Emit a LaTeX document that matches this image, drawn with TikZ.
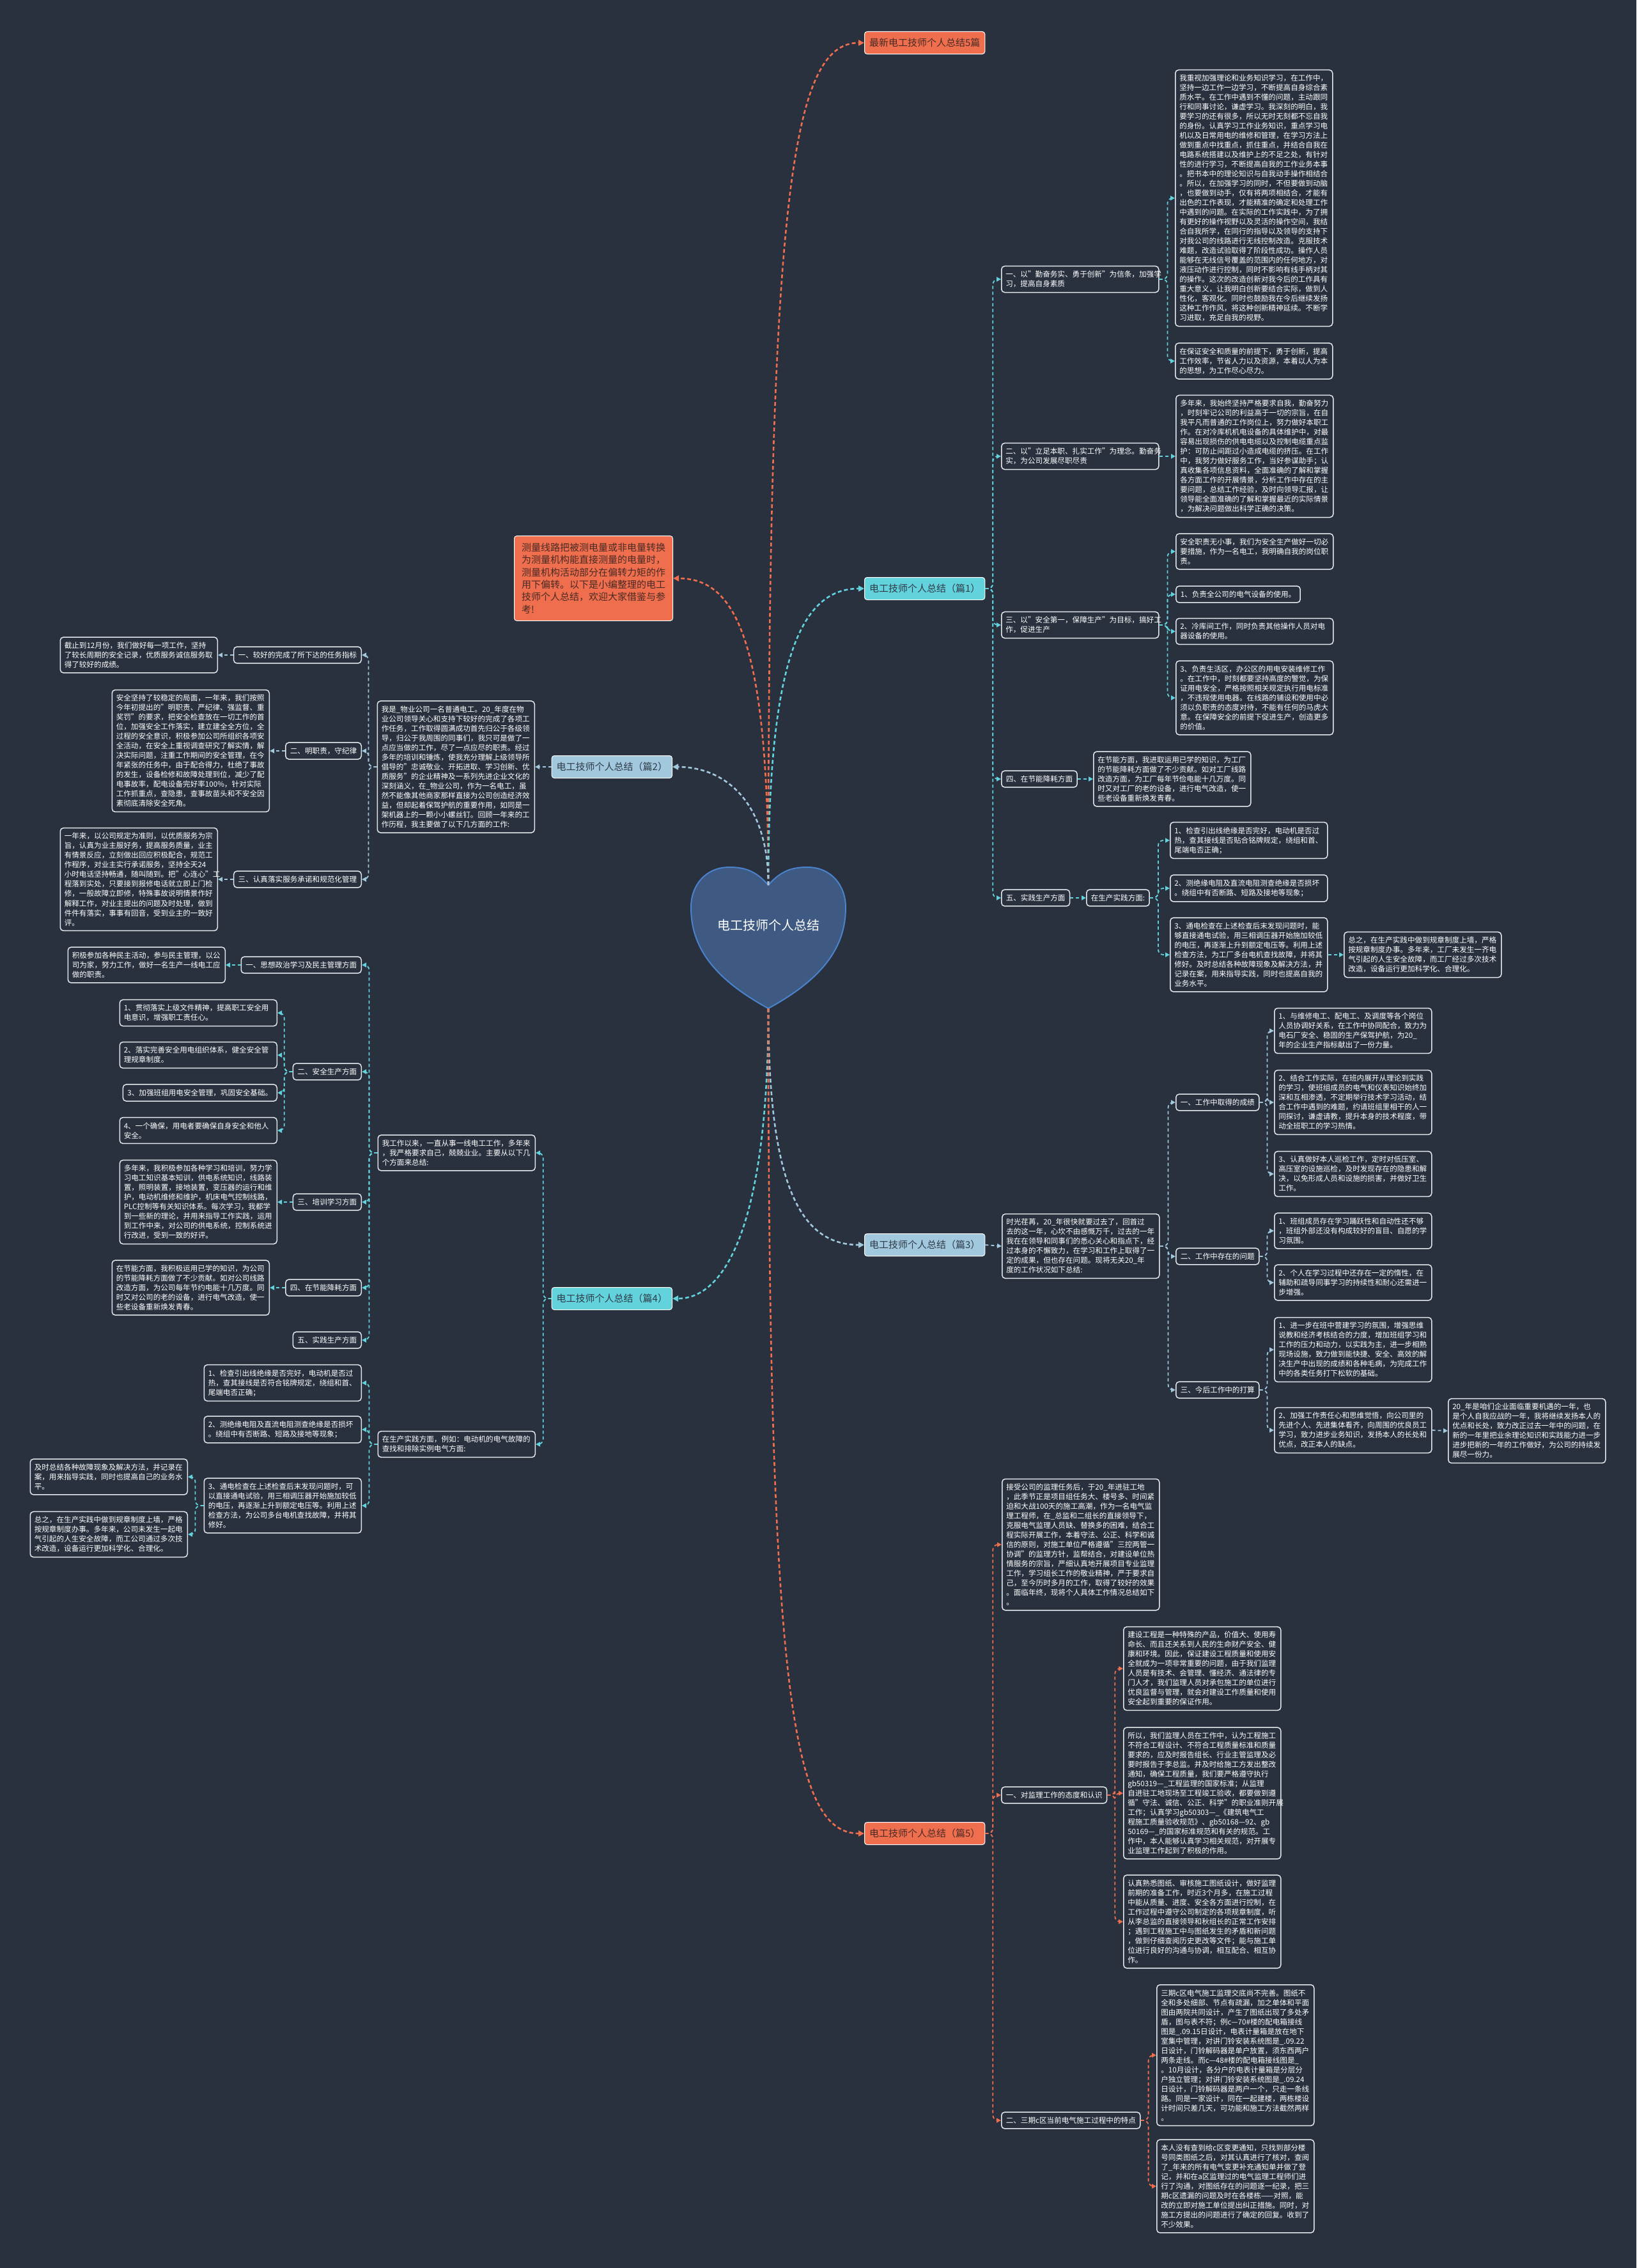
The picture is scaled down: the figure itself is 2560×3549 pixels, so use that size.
\documentclass[tikz,border=0pt]{standalone}
\usepackage{fontspec}
\setmainfont{Noto Sans CJK SC}
\usetikzlibrary{arrows.meta}
\definecolor{bg}{HTML}{29313F}
\definecolor{boxline}{HTML}{E3E8EC}
\definecolor{cyanc}{HTML}{62D2DC}
\definecolor{bluec}{HTML}{A2C8DE}
\definecolor{orangec}{HTML}{EE6E4E}
\definecolor{darktxt}{HTML}{2E3A46}
\definecolor{browntxt}{HTML}{4A2A24}
\definecolor{heartfill}{HTML}{3E5A82}
\definecolor{heartline}{HTML}{4A82CC}
\tikzset{
  tb/.style={draw=boxline, fill=bg, rounded corners=5pt, line width=1.5pt, text=white,
    inner xsep=6.5pt, inner ysep=7.5pt, align=left, text width=233pt,
    font=\fontsize{11.6}{15}\selectfont},
  lb/.style={draw=boxline, fill=bg, rounded corners=5pt, line width=1.5pt, text=white,
    inner xsep=7pt, inner ysep=7.5pt, align=left, font=\fontsize{11.6}{15}\selectfont},
  topbox/.style={draw=white, rounded corners=4pt, line width=1pt, inner xsep=7.5pt,
    inner ysep=0pt, minimum height=35pt, font=\fontsize{15}{19.4}\selectfont},
  introbox/.style={draw=white, fill=orangec, text=browntxt, rounded corners=4pt, line width=1pt,
    inner xsep=11.5pt, inner ysep=11pt, align=left, text width=225pt,
    font=\fontsize{15}{19.4}\selectfont},
  conn/.style={line width=1.8pt, dash pattern=on 5pt off 4pt, rounded corners=8pt,
    -{Triangle[length=7pt,width=7pt]}},
  cc/.style={conn, draw=cyanc},
  bc/.style={conn, draw=bluec},
  oc/.style={conn, draw=orangec},
  mainc/.style={line width=2.6pt, dash pattern=on 6pt off 4pt, -{Triangle[length=9pt,width=9pt]}}
}
\begin{document}
\begin{tikzpicture}[x=1pt,y=-1pt]
\fill[bg] (0,0) rectangle (2560,3549);
\useasboundingbox (0,0) rectangle (2560,3549);

% heart
\filldraw[fill=heartfill, draw=heartline, line width=2pt]
 (1202,1385) .. controls (1222,1362) and (1240,1357) .. (1263,1357)
 .. controls (1300,1357) and (1323,1385) .. (1323,1420)
 .. controls (1323,1480) and (1290,1530) .. (1202,1578)
 .. controls (1114,1530) and (1081,1480) .. (1081,1420)
 .. controls (1081,1385) and (1104,1357) .. (1141,1357)
 .. controls (1164,1357) and (1182,1362) .. (1202,1385) -- cycle;
\node[font=\fontsize{20}{24}\selectfont, text=white] (root) at (1202,1448) {电工技师个人总结};
\coordinate (htop) at (1202,1385);
\coordinate (hbot) at (1202,1578);

% level 1
\node[topbox, fill=orangec, text=browntxt, anchor=west] (t5) at (1352,67) {最新电工技师个人总结5篇};
\node[introbox, anchor=east] (intro) at (1053,905) {测量线路把被测电量或非电量转换\\为测量机构能直接测量的电量时，\\测量机构活动部分在偏转力矩的作\\用下偏转。以下是小编整理的电工\\技师个人总结，欢迎大家借鉴与参\\考!};
\node[topbox, fill=cyanc, text=darktxt, anchor=west] (p1) at (1352,921) {电工技师个人总结（篇1）};
\node[topbox, fill=bluec, text=darktxt, anchor=east] (p2) at (1052,1200) {电工技师个人总结（篇2）};
\node[topbox, fill=bluec, text=darktxt, anchor=west] (p3) at (1352,1948) {电工技师个人总结（篇3）};
\node[topbox, fill=cyanc, text=darktxt, anchor=east] (p4) at (1052,2032) {电工技师个人总结（篇4）};
\node[topbox, fill=orangec, text=browntxt, anchor=west] (p5) at (1352,2869) {电工技师个人总结（篇5）};

\draw[mainc, draw=orangec] (htop) .. controls (1202,300) and (1240,67) .. (t5.west);
\draw[mainc, draw=orangec] (htop) .. controls (1202,1000) and (1150,905) .. (intro.east);
\draw[mainc, draw=cyanc] (htop) .. controls (1202,1040) and (1250,921) .. (p1.west);
\draw[mainc, draw=bluec] (htop) .. controls (1202,1250) and (1130,1200) .. (p2.east);
\draw[mainc, draw=bluec] (hbot) .. controls (1202,1850) and (1250,1948) .. (p3.west);
\draw[mainc, draw=cyanc] (hbot) .. controls (1202,1900) and (1140,2032) .. (p4.east);
\draw[mainc, draw=orangec] (hbot) .. controls (1202,2650) and (1240,2869) .. (p5.west);

% ===== 篇1 =====
\node[tb, anchor=west] (b11) at (1566,437) {一、以"勤奋务实、勇于创新"为信条，加强学\\习，提高自身素质};
\node[tb, anchor=west] (a1) at (1838,310) {我重视加强理论和业务知识学习，在工作中，\\坚持一边工作一边学习，不断提高自身综合素\\质水平。在工作中遇到不懂的问题，主动跟同\\行和同事讨论，谦虚学习。我深刻的明白，我\\要学习的还有很多，所以无时无刻都不忘自我\\的身份。认真学习工作业务知识，重点学习电\\机以及日常用电的维修和管理，在学习方法上\\做到重点中找重点，抓住重点，并结合自我在\\电路系统搭建以及维护上的不足之处，有针对\\性的进行学习，不断提高自我的工作业务本事\\。把书本中的理论知识与自我动手操作相结合\\。所以，在加强学习的同时，不但要做到动脑\\，也要做到动手，仅有将两项相结合，才能有\\出色的工作表现，才能精准的确定和处理工作\\中遇到的问题。在实际的工作实践中，为了拥\\有更好的操作视野以及灵活的操作空间，我结\\合自我所学，在同行的指导以及领导的支持下\\对我公司的线路进行无线控制改造。克服技术\\难题，改造试验取得了阶段性成功。操作人员\\能够在无线信号覆盖的范围内的任何地方，对\\液压动作进行控制，同时不影响有线手柄对其\\的操作。这次的改造创新对我今后的工作具有\\重大意义，让我明白创新要结合实际，做到人\\性化，客观化。同时也鼓励我在今后继续发扬\\这种工作作风，将这种创新精神延续。不断学\\习进取，充足自我的视野。};
\node[tb, anchor=west] (a2) at (1838,565) {在保证安全和质量的前提下，勇于创新，提高\\工作效率，节省人力以及资源，本着以人为本\\的思想，为工作尽心尽力。};
\node[tb, anchor=west] (b12) at (1566,714) {二、以"立足本职、扎实工作"为理念。勤奋务\\实，为公司发展尽职尽责};
\node[tb, anchor=west] (bb1) at (1839,714) {多年来，我始终坚持严格要求自我，勤奋努力\\，时刻牢记公司的利益高于一切的宗旨，在自\\我平凡而普通的工作岗位上，努力做好本职工\\作。在对冷库机机电设备的具体维护中，对最\\容易出现损伤的供电电缆以及控制电缆重点监\\护：可防止间距过小造成电缆的挤压。在工作\\中，我努力做好服务工作，当好参谋助手；认\\真收集各项信息资料，全面准确的了解和掌握\\各方面工作的开展情景，分析工作中存在的主\\要问题，总结工作经验，及时向领导汇报，让\\领导能全面准确的了解和掌握最近的实际情景\\，为解决问题做出科学正确的决策。};
\node[tb, anchor=west] (b13) at (1566,978) {三、以"安全第一，保障生产"为目标，搞好工\\作，促进生产};
\node[tb, anchor=west] (c1) at (1839,863) {安全职责无小事，我们为安全生产做好一切必\\要措施，作为一名电工，我明确自我的岗位职\\责。};
\node[lb, anchor=west] (c2) at (1839,930) {1、负责全公司的电气设备的使用。};
\node[tb, anchor=west] (c3) at (1839,988) {2、冷库间工作，同时负责其他操作人员对电\\器设备的使用。};
\node[tb, anchor=west] (c4) at (1839,1092) {3、负责生活区，办公区的用电安装维修工作\\。在工作中，时刻都要坚持高度的警觉，为保\\证用电安全，严格按照相关规定执行用电标准\\，不违规使用电器。在线路的铺设和使用中必\\须以负职责的态度对待，不能有任何的马虎大\\意。在保障安全的前提下促进生产，创造更多\\的价值。};
\node[lb, anchor=west] (b14) at (1566,1219) {四、在节能降耗方面};
\node[tb, anchor=west] (d1) at (1710,1219) {在节能方面，我进取运用已学的知识，为工厂\\的节能降耗方面做了不少贡献。如对工厂线路\\改造方面，为工厂每年节俭电能十几万度。同\\时又对工厂的老的设备，进行电气改造，使一\\些老设备重新焕发青春。};
\node[lb, anchor=west] (b15) at (1566,1405) {五、实践生产方面};
\node[lb, anchor=west] (e0) at (1699,1405) {在生产实践方面:};
\node[tb, anchor=west] (e1) at (1830,1315) {1、检查引出线绝缘是否完好，电动机是否过\\热，查其接线是否贴合铭牌规定，绕组和首、\\尾端电否正确；};
\node[tb, anchor=west] (e2) at (1830,1390) {2、测绝缘电阻及直流电阻测查绝缘是否损坏\\。绕组中有否断路、短路及接地等现象；};
\node[tb, anchor=west] (e3) at (1830,1494) {3、通电检查在上述检查后末发现问题时，能\\够直接通电试验，用三相调压器开始施加较低\\的电压，再逐渐上升到额定电压等。利用上述\\检查方法，为工厂多台电机查找故障，并将其\\修好。及时总结各种故障现象及解决方法，并\\记录在案，用来指导实践，同时也提高自我的\\业务水平。};
\node[tb, anchor=west] (e4) at (2102,1494) {总之，在生产实践中做到规章制度上墙，严格\\按规章制度办事。多年来，工厂未发生一齐电\\气引起的人生安全故障，而工厂经过多次技术\\改造，设备运行更加科学化、合理化。};

\foreach \c in {b11,b12,b13,b14,b15} \draw[cc] (p1.east) -- ++(12,0) |- (\c.west);
\foreach \c in {a1,a2} \draw[cc] (b11.east) -- ++(13,0) |- (\c.west);
\draw[cc] (b12.east) -- (bb1.west);
\foreach \c in {c1,c2,c3,c4} \draw[cc] (b13.east) -- ++(13,0) |- (\c.west);
\draw[cc] (b14.east) -- (d1.west);
\draw[cc] (b15.east) -- (e0.west);
\foreach \c in {e1,e2,e3} \draw[cc] (e0.east) -- ++(13,0) |- (\c.west);
\draw[cc] (e3.east) -- (e4.west);

% ===== 篇2 =====
\node[tb, anchor=east] (q0) at (837,1200) {我是\_物业公司一名普通电工。20\_年度在物\\业公司领导关心和支持下较好的完成了各项工\\作任务，工作取得圆满成功首先归公于各级领\\导，归公于我周围的同事们，我只可是做了一\\点应当做的工作，尽了一点应尽的职责。经过\\多年的培训和锤炼，使我充分理解上级领导所\\倡导的"忠诚敬业、开拓进取、学习创新、优\\质服务"的企业精神及一系列先进企业文化的\\深刻涵义，在\_物业公司，作为一名电工，虽\\然不能像其他商家那样直接为公司创造经济效\\益，但却起着保驾护航的重要作用，如同是一\\架机器上的一颗小小螺丝钉。回顾一年来的工\\作历程，我主要做了以下几方面的工作:};
\node[lb, anchor=east] (qb1) at (566,1025) {一、较好的完成了所下达的任务指标};
\node[tb, anchor=east] (qc1) at (341,1025) {截止到12月份，我们做好每一项工作，坚持\\了较长周期的安全记录，优质服务诚信服务取\\得了较好的成绩。};
\node[lb, anchor=east] (qb2) at (566,1175) {二、明职责，守纪律};
\node[tb, anchor=east] (qc2) at (422,1175) {安全坚持了较稳定的局面，一年来，我们按照\\今年初提出的"明职责、严纪律、强监督、重\\奖罚"的要求，把安全检查放在一切工作的首\\位，加强安全工作落实，建立建全全方位，全\\过程的安全意识，积极参加公司所组织各项安\\全活动，在安全上重视调查研究了解实情，解\\决实际问题，注重工作期间的安全管理，在今\\年紧张的任务中，由于配合得力，杜绝了事故\\的发生，设备检修和故障处理到位，减少了配\\电事故率，配电设备完好率100\%，针对实际\\工作抓重点，查隐患，查事故苗头和不安全因\\素彻底清除安全死角。};
\node[lb, anchor=east] (qb3) at (566,1376) {三、认真落实服务承诺和规范化管理};
\node[tb, anchor=east] (qc3) at (341,1376) {一年来，以公司规定为准则，以优质服务为宗\\旨，认真为业主服好务，提高服务质量，业主\\有情景反应，立刻做出回应积极配合，规范工\\作程序，对业主实行承诺服务，坚持全天24\\小时电话坚持畅通，随叫随到。把"心连心"工\\程落到实处，只要接到报修电话就立即上门检\\修，一般故障立即修，特殊事故说明情景作好\\解释工作，对业主提出的问题及时处理，做到\\件件有落实，事事有回音，受到业主的一致好\\评。};

\draw[bc] (p2.west) -- (q0.east);
\foreach \c in {qb1,qb2,qb3} \draw[bc] (q0.west) -- ++(-13,0) |- (\c.east);
\draw[bc] (qb1.west) -- (qc1.east);
\draw[bc] (qb2.west) -- (qc2.east);
\draw[bc] (qb3.west) -- (qc3.east);

% ===== 篇3 =====
\node[tb, anchor=west] (r0) at (1567,1950) {时光荏苒，20\_年很快就要过去了，回首过\\去的这一年，心坎不由感慨万千，过去的一年\\我在在领导和同事们的悉心关心和指点下，经\\过本身的不懈致力，在学习和工作上取得了一\\定的成果，但也存在问题。现将无关20\_年\\度的工作状况如下总结:};
\node[lb, anchor=west] (rb1) at (1839,1725) {一、工作中取得的成绩};
\node[tb, anchor=west] (h1) at (1993,1613) {1、与维修电工、配电工、及调度等各个岗位\\人员协调好关系，在工作中协同配合，致力为\\电石厂安全、稳固的生产保驾护航，为20\_\\年的企业生产指标献出了一份力量。};
\node[tb, anchor=west] (h2) at (1993,1725) {2、结合工作实际，在班内展开从理论到实践\\的学习，使班组成员的电气和仪表知识始终加\\深和互相渗透，不定期举行技术学习活动，结\\合工作中遇到的难题，约请班组里相干的人一\\同探讨，谦虚请教，提升本身的技术程度，带\\动全班职工的学习热情。};
\node[tb, anchor=west] (h3) at (1993,1837) {3、认真做好本人巡检工作，定时对低压室、\\高压室的设施巡检，及时发现存在的隐患和解\\决，以免形成人员和设施的损害，并做好卫生\\工作。};
\node[lb, anchor=west] (rb2) at (1839,1966) {二、工作中存在的问题};
\node[tb, anchor=west] (i1) at (1993,1926) {1、班组成员存在学习踊跃性和自动性还不够\\，班组外部还没有构成较好的盲目、自愿的学\\习氛围。};
\node[tb, anchor=west] (i2) at (1993,2007) {2、个人在学习过程中还存在一定的惰性，在\\辅助和疏导同事学习的持续性和耐心还需进一\\步增强。};
\node[lb, anchor=west] (rb3) at (1839,2175) {三、今后工作中的打算};
\node[tb, anchor=west] (j1) at (1993,2112) {1、进一步在班中营建学习的氛围，增强思维\\说教和经济考核结合的力度，增加班组学习和\\工作的压力和动力，以实践为主，进一步相熟\\现场设施，致力做到能快捷、安全、高效的解\\决生产中出现的成绩和各种毛病，为完成工作\\中的各类任务打下松软的基础。};
\node[tb, anchor=west] (j2) at (1993,2238) {2、加强工作责任心和思维觉悟，向公司里的\\先进个人、先进集体看齐，向周围的优良员工\\学习，致力进步业务知识，发扬本人的长处和\\优点，改正本人的缺点。};
\node[tb, anchor=west] (k1) at (2265,2239) {20\_年是咱们企业面临重要机遇的一年，也\\是个人自我应战的一年，我将继续发扬本人的\\优点和长处，致力改正过去一年中的问题，在\\新的一年里把业余理论知识和实践能力进一步\\进步把新的一年的工作做好，为公司的持续发\\展尽一份力。};

\draw[bc] (p3.east) -- (r0.west);
\foreach \c in {rb1,rb2,rb3} \draw[bc] (r0.east) -- ++(13,0) |- (\c.west);
\foreach \c in {h1,h2,h3} \draw[bc] (rb1.east) -- ++(12,0) |- (\c.west);
\foreach \c in {i1,i2} \draw[bc] (rb2.east) -- ++(12,0) |- (\c.west);
\foreach \c in {j1,j2} \draw[bc] (rb3.east) -- ++(12,0) |- (\c.west);
\draw[bc] (j2.east) -- (k1.west);

% ===== 篇4 =====
\node[tb, anchor=east] (s0) at (838,1804) {我工作以来，一直从事一线电工工作，多年来\\，我严格要求自己，兢兢业业。主要从以下几\\个方面来总结:};
\node[lb, anchor=east] (sb1) at (566,1510) {一、思想政治学习及民主管理方面};
\node[tb, anchor=east] (sc1) at (353,1510) {积极参加各种民主活动，参与民主管理，以公\\司为家，努力工作，做好一名生产一线电工应\\做的职责。};
\node[lb, anchor=east] (sb2) at (566,1677) {二、安全生产方面};
\node[tb, anchor=east] (s21) at (434,1585) {1、贯彻落实上级文件精神，提高职工安全用\\电意识，增强职工责任心。};
\node[tb, anchor=east] (s22) at (434,1651) {2、落实完善安全用电组织体系，健全安全管\\理规章制度。};
\node[lb, anchor=east] (s23) at (434,1710) {3、加强班组用电安全管理，巩固安全基础。};
\node[tb, anchor=east] (s24) at (434,1769) {4、一个确保，用电者要确保自身安全和他人\\安全。};
\node[lb, anchor=east] (sb3) at (566,1881) {三、培训学习方面};
\node[tb, anchor=east] (sc3) at (434,1881) {多年来，我积极参加各种学习和培训，努力学\\习电工知识基本知训，供电系统知识，线路装\\置，照明装置，接地装置，变压器的运行和维\\护，电动机维修和维护，机床电气控制线路，\\PLC控制等有关知识体系。每次学习，我都学\\到一些新的理论，并用来指导工作实践，运用\\到工作中来，对公司的供电系统，控制系统进\\行改进，受到一致的好评。};
\node[lb, anchor=east] (sb4) at (566,2015) {四、在节能降耗方面};
\node[tb, anchor=east] (sc4) at (422,2015) {在节能方面，我积极运用已学的知识，为公司\\的节能降耗方面做了不少贡献。如对公司线路\\改造方面，为公司每年节约电能十几万度。同\\时又对公司的老的设备，进行电气改造，使一\\些老设备重新焕发青春。};
\node[lb, anchor=east] (sb5) at (566,2097) {五、实践生产方面};
\node[tb, anchor=east] (t0) at (838,2260) {在生产实践方面，例如：电动机的电气故障的\\查找和排除实例电气方面:};
\node[tb, anchor=east] (f1) at (566,2164) {1、检查引出线绝缘是否完好，电动机是否过\\热，查其接线是否符合铭牌规定，绕组和首、\\尾端电否正确；};
\node[tb, anchor=east] (f2) at (566,2237) {2、测绝缘电阻及直流电阻测查绝缘是否损坏\\。绕组中有否断路、短路及接地等现象；};
\node[tb, anchor=east] (f3) at (566,2356) {3、通电检查在上述检查后末发现问题时，可\\以直接通电试验，用三相调压器开始施加较低\\的电压，再逐渐上升到额定电压等。利用上述\\检查方法，为公司多台电机查找故障，并将其\\修好。};
\node[tb, anchor=east] (g1) at (294,2311) {及时总结各种故障现象及解决方法，并记录在\\案，用来指导实践，同时也提高自己的业务水\\平。};
\node[tb, anchor=east] (g2) at (294,2401) {总之，在生产实践中做到规章制度上墙，严格\\按规章制度办事。多年来，公司未发生一起电\\气引起的人生安全故障，而工公司通过多次技\\术改造，设备运行更加科学化、合理化。};

\foreach \c in {s0,t0} \draw[cc] (p4.west) -- ++(-13,0) |- (\c.east);
\foreach \c in {sb1,sb2,sb3,sb4,sb5} \draw[cc] (s0.west) -- ++(-13,0) |- (\c.east);
\draw[cc] (sb1.west) -- (sc1.east);
\foreach \c in {s21,s22,s23,s24} \draw[cc] (sb2.west) -- ++(-13,0) |- (\c.east);
\draw[cc] (sb3.west) -- (sc3.east);
\draw[cc] (sb4.west) -- (sc4.east);
\foreach \c in {f1,f2,f3} \draw[cc] (t0.west) -- ++(-13,0) |- (\c.east);
\foreach \c in {g1,g2} \draw[cc] (f3.west) -- ++(-13,0) |- (\c.east);

% ===== 篇5 =====
\node[tb, anchor=west] (u0) at (1567,2417) {接受公司的监理任务后，于20\_年进驻工地\\，此季节正是项目组任务大、楼号多、时间紧\\迫和大战100天的施工高潮，作为一名电气监\\理工程师，在\_总监和二组长的直接领导下，\\克服电气监理人员缺、替换多的困难，结合工\\程实际开展工作，本着守法、公正、科学和诚\\信的原则，对施工单位严格遵循"三控两管一\\协调"的监理方针，监帮结合，对建设单位热\\情服务的宗旨，严细认真地开展项目专业监理\\工作，学习组长工作的敬业精神，严于要求自\\己，至今历时多月的工作，取得了较好的效果\\。面临年终，现将个人具体工作情况总结如下\\。};
\node[lb, anchor=west] (ub1) at (1566,2809) {一、对监理工作的态度和认识};
\node[tb, anchor=west] (l1) at (1757,2611) {建设工程是一种特殊的产品，价值大、使用寿\\命长、而且还关系到人民的生命财产安全、健\\康和环境。因此，保证建设工程质量和使用安\\全就成为一项非常重要的问题，由于我们监理\\人员是有技术、会管理、懂经济、通法律的专\\门人才，我们监理人员对承包施工的单位进行\\优良监督与管理，就会对建设工作质量和使用\\安全起到重要的保证作用。};
\node[tb, anchor=west] (l2) at (1757,2806) {所以，我们监理人员在工作中，认为工程施工\\不符合工程设计、不符合工程质量标准和质量\\要求的，应及时报告组长、行业主管监理及必\\要时报告于李总监。并及时给施工方发出整改\\通知，确保工程质量，我们要严格遵守执行\\gb50319—\_工程监理的国家标准；从监理\\自进驻工地现场至工程竣工验收，都要做到遵\\循"守法、诚信、公正、科学"的职业准则开展\\工作；认真学习gb50303—\_《建筑电气工\\程施工质量验收规范》、gb50168—92、gb\\50169—\_的国家标准规范和有关的规范。工\\作中，本人能够认真学习相关规范，对开展专\\业监理工作起到了积极的作用。};
\node[tb, anchor=west] (l3) at (1757,3007) {认真熟悉图纸、审核施工图纸设计，做好监理\\前期的准备工作，时近3个月多，在施工过程\\中能从质量、进度、安全各方面进行控制，在\\工作过程中遵守公司制定的各项规章制度，听\\从李总监的直接领导和秋组长的正常工作安排\\；遇到工程施工中与图纸发生的矛盾和新问题\\，做到仔细查阅历史更改等文件；能与施工单\\位进行良好的沟通与协调，相互配合、相互协\\作。};
\node[lb, anchor=west] (ub2) at (1566,3318) {二、三期c区当前电气施工过程中的特点};
\node[tb, anchor=west] (m1) at (1809,3216) {三期c区电气施工监理交底尚不完善。图纸不\\全和多处细部、节点有疏漏，加之单体和平面\\图由两院共同设计，产生了图纸出现了多处矛\\盾，图与表不符；例c—70\#楼的配电箱接线\\图是\_.09.15日设计，电表计量箱是放在地下\\室集中管理，对讲门铃安装系统图是\_.09.22\\日设计，门铃解码器是单户放置，须东西两户\\两条走线。而c—48\#楼的配电箱接线图是\_\\。10月设计，各分户的电表计量箱是分层分\\户独立管理；对讲门铃安装系统图是\_.09.24\\日设计，门铃解码器是两户一个，只走一条线\\路。同是一家设计，同在一起建楼，两栋楼设\\计时间只差几天，可功能和施工方法截然两样\\。};
\node[tb, anchor=west] (m2) at (1809,3421) {本人没有查到给c区变更通知，只找到部分楼\\号同类图纸之后，对其认真进行了核对，查阅\\了\_年来的所有电气变更补充通知单并做了登\\记，并和在a区监理过的电气监理工程师们进\\行了沟通，对图纸存在的问题逐一纪录，把三\\期c区遗漏的问题及时在各楼栋——对照，能\\改的立即对施工单位提出纠正措施。同时，对\\施工方提出的问题进行了确定的回复。收到了\\不少效果。};

\foreach \c in {u0,ub1,ub2} \draw[oc] (p5.east) -- ++(12,0) |- (\c.west);
\foreach \c in {l1,l2,l3} \draw[oc] (ub1.east) -- ++(12,0) |- (\c.west);
\foreach \c in {m1,m2} \draw[oc] (ub2.east) -- ++(12,0) |- (\c.west);
\end{tikzpicture}
\end{document}
